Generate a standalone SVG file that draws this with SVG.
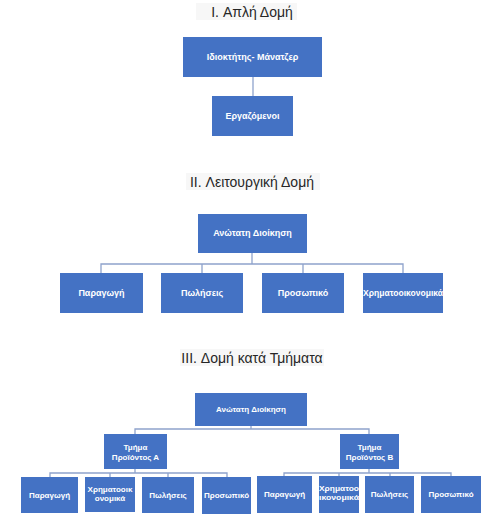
<svg xmlns="http://www.w3.org/2000/svg" width="504" height="528" viewBox="0 0 504 528">
<style>
.title{font-family:"Liberation Sans",Arial,sans-serif;font-size:14px;fill:#262626;text-anchor:middle}
.box{fill:#4472C4}
.t9{font-family:"Liberation Sans",Arial,sans-serif;font-size:9px;font-weight:bold;fill:#FFFFFF;text-anchor:middle}
.t8{font-family:"Liberation Sans",Arial,sans-serif;font-size:8px;font-weight:bold;fill:#FFFFFF;text-anchor:middle}
.conn{fill:none;stroke:#8EA3CC;stroke-width:1.3}
.bg{fill:#F7F7F7}
</style>
<rect width="504" height="528" fill="#FFFFFF"/>
<g id="titles">
<rect class="bg" x="196" y="3" width="101" height="17"/>
<text class="title" x="252" y="17">I. Απλή Δομή</text>
<rect class="bg" x="186" y="173" width="134" height="17"/>
<text class="title" x="252" y="187">II. Λειτουργική Δομή</text>
<rect class="bg" x="180" y="349" width="144" height="17"/>
<text class="title" x="252" y="363">III. Δομή κατά Τμήματα</text>
</g>
<g id="connectors">
<path class="conn" d="M253 77V96"/>
<path class="conn" d="M252 253V264M101 273V264H403V273M202 264V273M303 264V273"/>
<path class="conn" d="M251 426V429M135 434V429H369V434"/>
<path class="conn" d="M135 469V473M50 477V473H227V477M110 473V477M168 473V477"/>
<path class="conn" d="M369 469V473M284 477V473H451V477M339 473V477M390 473V477"/>
</g>
<g id="n1"><rect class="box" x="183" y="37" width="139" height="40"/><text class="t9" x="252.5" y="60">Ιδιοκτήτης- Μάνατζερ</text></g>
<g id="n2"><rect class="box" x="212" y="96" width="81" height="40"/><text class="t9" x="252.5" y="119">Εργαζόμενοι</text></g>
<g id="n3"><rect class="box" x="198" y="214" width="109" height="39"/><text class="t9" x="252.5" y="236">Ανώτατη Διοίκηση</text></g>
<g id="n4"><rect class="box" x="60" y="273" width="83" height="40"/><text class="t9" x="101.5" y="296">Παραγωγή</text></g>
<g id="n5"><rect class="box" x="161" y="273" width="82" height="40"/><text class="t9" x="202" y="296">Πωλήσεις</text></g>
<g id="n6"><rect class="box" x="262" y="273" width="82" height="40"/><text class="t9" x="303" y="296">Προσωπικό</text></g>
<g id="n7"><rect class="box" x="363" y="273" width="80" height="40"/><text class="t9" x="403" y="296" textLength="80" lengthAdjust="spacingAndGlyphs">Χρηματοοικονομικά</text></g>
<g id="n8"><rect class="box" x="195" y="393" width="112" height="33"/><text class="t8" x="251" y="412">Ανώτατη Διοίκηση</text></g>
<g id="n9"><rect class="box" x="104" y="434" width="63" height="35"/><text class="t8" x="135.5" y="450">Τμήμα</text><text class="t8" x="135.5" y="460">Προϊόντος Α</text></g>
<g id="n10"><rect class="box" x="340" y="434" width="59" height="35"/><text class="t8" x="369.5" y="450">Τμήμα</text><text class="t8" x="369.5" y="460">Προϊόντος Β</text></g>
<g id="n11"><rect class="box" x="21" y="477" width="57" height="36"/><text class="t8" x="49.5" y="498">Παραγωγή</text></g>
<g id="n12"><rect class="box" x="85" y="477" width="50" height="35"/><text class="t8" x="110" y="492">Χρηματοοικ</text><text class="t8" x="110" y="501">ονομικά</text></g>
<g id="n13"><rect class="box" x="142" y="477" width="52" height="36"/><text class="t8" x="168" y="498">Πωλήσεις</text></g>
<g id="n14"><rect class="box" x="202" y="477" width="49" height="37"/><text class="t8" x="226.5" y="498">Προσωπικό</text></g>
<g id="n15"><rect class="box" x="257" y="476" width="55" height="37"/><text class="t8" x="284.5" y="497">Παραγωγή</text></g>
<g id="n16"><rect class="box" x="319" y="476" width="40" height="37"/><text class="t8" x="339" y="491" textLength="40" lengthAdjust="spacingAndGlyphs">Χρηματοο</text><text class="t8" x="339" y="500" textLength="40" lengthAdjust="spacingAndGlyphs">ικονομικά</text></g>
<g id="n17"><rect class="box" x="365" y="476" width="49" height="37"/><text class="t8" x="389.5" y="497">Πωλήσεις</text></g>
<g id="n18"><rect class="box" x="421" y="476" width="60" height="37"/><text class="t8" x="451" y="497">Προσωπικό</text></g>
</svg>
